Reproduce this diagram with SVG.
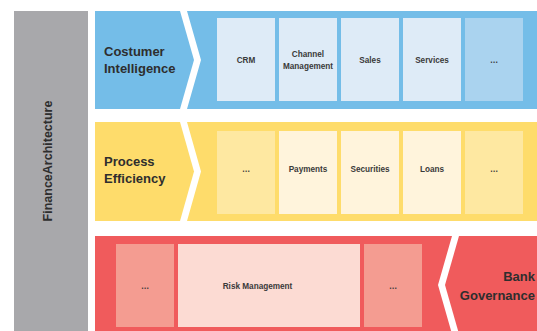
<svg xmlns="http://www.w3.org/2000/svg" width="537" height="331" viewBox="0 0 537 331">
<style>
.t{font-family:"Liberation Sans",Arial,sans-serif;font-weight:bold;fill:#2e2e2e}
.h{font-size:13px}
.c{font-size:8.2px;text-anchor:middle;fill:#3a3a3a}
.blue{fill:#74BDE8}.bc{fill:#DEEBF7}.bd{fill:#AAD3EF}
.yel{fill:#FEDC6B}.yc{fill:#FFF4DC}.yd{fill:#FEE8A1}
.red{fill:#F05B5C}.rc{fill:#FCDBD3}.rd{fill:#F49C91}
</style>
<rect width="537" height="331" fill="#ffffff"/>
<g id="finance-architecture">
<rect x="14" y="11" width="74" height="320" fill="#A8A8AB"/>
<text class="t" font-size="12.5" text-anchor="middle" transform="translate(52,161) rotate(-90)">FinanceArchitecture</text>
</g>
<g id="customer-intelligence">
<polygon class="blue" points="95,11 180,11 194,60 180,109 95,109"/>
<text class="t h" x="104" y="56">Costumer</text>
<text class="t h" x="104" y="73">Intelligence</text>
</g>
<g id="customer-band">
<polygon class="blue" points="187,11 537,11 537,109 187,109 201,60"/>
<rect class="bc" x="217" y="18" width="58" height="83"/>
<rect class="bc" x="279" y="18" width="58" height="83"/>
<rect class="bc" x="341" y="18" width="58" height="83"/>
<rect class="bc" x="403" y="18" width="58" height="83"/>
<rect class="bd" x="465" y="18" width="58" height="83"/>
<text class="t c" x="246" y="62.5">CRM</text>
<text class="t c" x="308" y="57">Channel</text>
<text class="t c" x="308" y="69">Management</text>
<text class="t c" x="370" y="62.5">Sales</text>
<text class="t c" x="432" y="62.5">Services</text>
<text class="t c" x="494" y="62.5">…</text>
</g>
<g id="process-efficiency">
<polygon class="yel" points="95,122 180,122 194,171.5 180,221 95,221"/>
<text class="t h" x="104" y="166">Process</text>
<text class="t h" x="104" y="183">Efficiency</text>
</g>
<g id="process-band">
<polygon class="yel" points="187,122 537,122 537,221 187,221 201,171.5"/>
<rect class="yd" x="217" y="131" width="58" height="83"/>
<rect class="yc" x="279" y="131" width="58" height="83"/>
<rect class="yc" x="341" y="131" width="58" height="83"/>
<rect class="yc" x="403" y="131" width="58" height="83"/>
<rect class="yd" x="465" y="131" width="58" height="83"/>
<text class="t c" x="246" y="172">…</text>
<text class="t c" x="308" y="172">Payments</text>
<text class="t c" x="370" y="172">Securities</text>
<text class="t c" x="432" y="172">Loans</text>
<text class="t c" x="494" y="172">…</text>
</g>
<g id="governance-band">
<polygon class="red" points="95,236 452,236 438,285 452,334 95,334"/>
<rect class="rd" x="116" y="244" width="58" height="83"/>
<rect class="rc" x="178" y="244" width="182" height="83"/>
<rect class="rd" x="364" y="244" width="58" height="83"/>
<text class="t c" x="145" y="289">…</text>
<text class="t c" x="257.5" y="289">Risk Management</text>
<text class="t c" x="393" y="289">…</text>
</g>
<g id="bank-governance">
<polygon class="red" points="459,236 537,236 537,334 459,334 445,285"/>
<text class="t h" x="535" y="281" text-anchor="end">Bank</text>
<text class="t h" x="535" y="300" text-anchor="end">Governance</text>
</g>
<g id="connectors"></g>
</svg>
